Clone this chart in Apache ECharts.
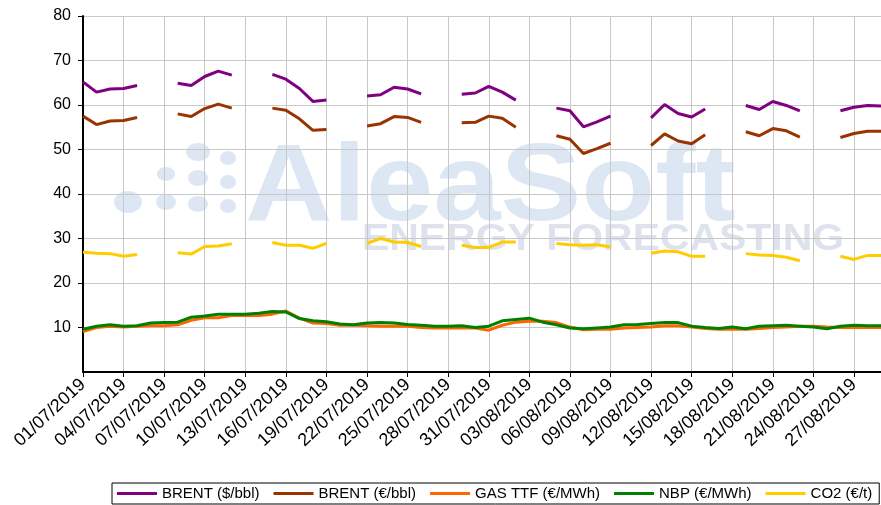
<!DOCTYPE html>
<html><head><meta charset="utf-8">
<script src="https://cdn.jsdelivr.net/npm/echarts@6/dist/echarts.min.js"></script>
<style>html,body{margin:0;padding:0;background:#fff}#c{width:881px;height:505px}</style>
</head><body><div id="c"></div>
<script>
const dates = [
"01/07/2019","02/07/2019","03/07/2019","04/07/2019","05/07/2019","06/07/2019","07/07/2019",
"08/07/2019","09/07/2019","10/07/2019","11/07/2019","12/07/2019","13/07/2019","14/07/2019",
"15/07/2019","16/07/2019","17/07/2019","18/07/2019","19/07/2019","20/07/2019","21/07/2019",
"22/07/2019","23/07/2019","24/07/2019","25/07/2019","26/07/2019","27/07/2019","28/07/2019",
"29/07/2019","30/07/2019","31/07/2019","01/08/2019","02/08/2019","03/08/2019","04/08/2019",
"05/08/2019","06/08/2019","07/08/2019","08/08/2019","09/08/2019","10/08/2019","11/08/2019",
"12/08/2019","13/08/2019","14/08/2019","15/08/2019","16/08/2019","17/08/2019","18/08/2019",
"19/08/2019","20/08/2019","21/08/2019","22/08/2019","23/08/2019","24/08/2019","25/08/2019",
"26/08/2019","27/08/2019","28/08/2019","29/08/2019"];

const brentUsd = [
65.2,62.9,63.6,63.7,64.4,null,null,
64.9,64.4,66.4,67.6,66.7,null,null,
66.9,65.8,63.7,60.8,61.1,null,null,
62.0,62.3,64.0,63.6,62.5,null,null,
62.4,62.7,64.2,62.9,61.1,null,null,
59.3,58.7,55.1,56.2,57.5,null,null,
57.1,60.1,58.1,57.3,59.1,null,null,
59.9,59.0,60.8,59.9,58.7,null,null,
58.7,59.5,59.9,59.8];

const brentEur = [
57.5,55.6,56.4,56.5,57.2,null,null,
58.0,57.4,59.2,60.2,59.3,null,null,
59.3,58.8,56.9,54.3,54.5,null,null,
55.3,55.8,57.4,57.2,56.1,null,null,
56.0,56.1,57.5,57.0,55.0,null,null,
53.1,52.3,49.1,50.2,51.4,null,null,
50.9,53.5,51.9,51.3,53.3,null,null,
54.0,53.1,54.7,54.2,52.8,null,null,
52.7,53.6,54.1,54.1];

const gasTtf = [
9.1,10.0,10.3,10.1,10.3,10.4,10.4,
10.6,11.6,12.2,12.2,12.7,12.7,12.7,
13.0,13.7,12.1,11.0,10.9,10.5,10.5,
10.4,10.3,10.3,10.3,10.0,9.9,9.9,
9.9,9.9,9.4,10.5,11.2,11.4,11.4,
11.1,10.1,9.5,9.6,9.6,9.9,10.0,
10.1,10.4,10.4,10.1,9.8,9.6,9.6,
9.6,9.8,10.0,10.1,10.3,10.3,10.1,
10.0,10.0,10.0,10.0];

const nbp = [
9.6,10.3,10.6,10.3,10.4,11.0,11.1,
11.2,12.3,12.6,13.0,13.0,13.0,13.2,
13.6,13.5,12.0,11.5,11.3,10.8,10.6,
11.0,11.1,11.0,10.7,10.5,10.3,10.3,
10.4,10.0,10.3,11.5,11.8,12.1,11.2,
10.6,9.9,9.7,9.9,10.1,10.6,10.7,
10.9,11.1,11.1,10.3,10.0,9.8,10.1,
9.7,10.3,10.4,10.5,10.3,10.1,9.7,
10.3,10.5,10.4,10.4];

const co2 = [
26.9,26.7,26.6,26.0,26.4,null,null,
26.8,26.5,28.2,28.3,28.8,null,null,
29.1,28.5,28.5,27.8,28.9,null,null,
28.9,30.0,29.2,29.1,28.2,null,null,
28.5,28.0,28.0,29.2,29.2,null,null,
28.9,28.6,28.5,28.6,28.1,null,null,
26.7,27.2,27.0,26.0,26.0,null,null,
26.6,26.3,26.2,25.8,25.0,null,null,
26.0,25.3,26.2,26.2];

const seriesNames = ["BRENT ($/bbl)","BRENT (€/bbl)","GAS TTF (€/MWh)","NBP (€/MWh)","CO2 (€/t)"];
const seriesColors = ["#800080","#993300","#FF6600","#008000","#FFCC00"];
const seriesData = [brentUsd, brentEur, gasTtf, nbp, co2];

const FONT = "'Liberation Sans', Arial, sans-serif";
const chart = echarts.init(document.getElementById('c'), null, {renderer:'canvas'});

const WM = 'rgba(150,180,222,0.32)';
const dots = [
  [198,152,12,9],[228,158,8,7],[166,174,9,7],[198,178,10,8],[228,182,8,7],
  [128,202,14,11],[166,202,10,8],[198,204,10,8],[228,206,8,7]
];
const graphics = dots.map(d => ({
  type:'ellipse', z:-10, silent:true,
  shape:{cx:d[0], cy:d[1], rx:d[2], ry:d[3]},
  style:{fill:WM}
}));
graphics.push({
  type:'text', z:-10, silent:true, x:245, y:190, scaleX:1.11,
  style:{text:'AleaSoft', font:"bold 109px 'Liberation Sans', Arial, sans-serif",
         fill:WM, textVerticalAlign:'middle', verticalAlign:'middle'}
});
graphics.push({
  type:'text', z:-10, silent:true, x:362, y:240, scaleX:1.137,
  style:{text:'ENERGY FORECASTING', font:"bold 36px 'Liberation Sans', Arial, sans-serif",
         fill:'rgba(150,165,195,0.32)', textVerticalAlign:'middle', verticalAlign:'middle'}
});

chart.setOption({
  animation:false,
  backgroundColor:'#fff',
  graphic: graphics,
  grid:{left:83, top:16, right:-4, bottom:133, containLabel:false},
  legend:{
    data: seriesNames, left:112, bottom:1, width:800,
    icon:'rect', itemWidth:40, itemHeight:3, itemGap:14,
    padding:[3,7,3,5], borderColor:'#000', borderWidth:1,
    textStyle:{fontFamily:FONT, fontSize:15, color:'#000'}
  },
  xAxis:{
    type:'category', data:dates, boundaryGap:false,
    axisLine:{lineStyle:{color:'#000', width:2}},
    axisTick:{interval:2, length:5, lineStyle:{color:'#000'}},
    axisLabel:{interval:2, rotate:43, margin:10, fontFamily:FONT, fontSize:18, color:'#000'},
    splitLine:{show:true, interval:2, lineStyle:{color:'#c8c8c8', width:1}}
  },
  yAxis:{
    type:'value', min:0, max:80, interval:10,
    axisLine:{show:true, lineStyle:{color:'#000', width:2}},
    axisTick:{show:true, length:5, lineStyle:{color:'#000'}},
    axisLabel:{showMinLabel:false, margin:12, fontFamily:FONT, fontSize:16, color:'#000'},
    splitLine:{show:true, lineStyle:{color:'#c8c8c8', width:1}}
  },
  series: seriesNames.map((n,i)=>({
    name:n, type:'line', data:seriesData[i], symbol:'none', showSymbol:false,
    connectNulls:false, smooth:false,
    lineStyle:{color:seriesColors[i], width:3},
    itemStyle:{color:seriesColors[i]}, z:2+i
  }))
});
</script></body></html>
